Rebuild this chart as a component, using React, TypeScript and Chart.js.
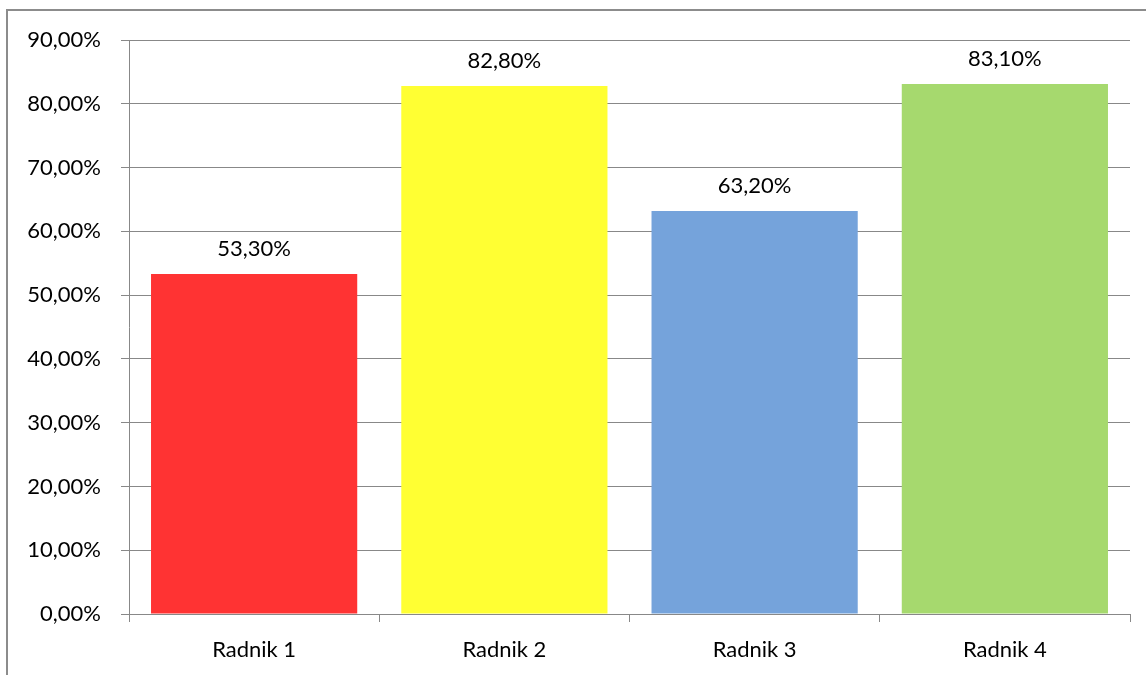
import React, { useEffect, useRef } from "react";
import { Chart, registerables } from "chart.js";

Chart.register(...registerables);

const categories = ["Radnik 1", "Radnik 2", "Radnik 3", "Radnik 4"];
const values = [53.3, 82.8, 63.2, 83.1];
const barColors = ["#FF3333", "#FFFF33", "#75A3DB", "#A6D96E"];
const yTicks = [0, 10, 20, 30, 40, 50, 60, 70, 80, 90];

const FONT = "Lato, 'Open Sans', sans-serif";
const GRID = "#888888";
const FS = 22;

const fmt = (v: number) => v.toFixed(2).replace(".", ",") + "%";

const labelPlugin = {
  id: "barLabels",
  afterDatasetsDraw(chart: any) {
    const ctx = chart.ctx;
    const meta = chart.getDatasetMeta(0);
    ctx.save();
    ctx.font = `${FS}px ${FONT}`;
    ctx.fillStyle = "#000000";
    ctx.textAlign = "center";
    ctx.textBaseline = "middle";
    meta.data.forEach((el: any, i: number) => {
      ctx.fillText(fmt(values[i]), el.x, el.y - 25);
    });
    ctx.restore();
  },
};

export default function App() {
  const ref = useRef<HTMLCanvasElement | null>(null);
  useEffect(() => {
    if (!ref.current) return;
    const chart = new Chart(ref.current, {
      type: "bar",
      data: {
        labels: categories,
        datasets: [
          {
            data: values,
            backgroundColor: barColors,
            borderWidth: 0,
            barPercentage: 0.824,
            categoryPercentage: 1,
          },
        ],
      },
      options: {
        responsive: false,
        animation: false,
        layout: { padding: { top: 40, right: 16, left: 0, bottom: 0 } },
        plugins: { legend: { display: false }, tooltip: { enabled: false } },
        scales: {
          x: {
            grid: { drawOnChartArea: false, drawTicks: true, tickLength: 8, color: GRID, offset: true },
            border: { color: GRID, width: 1 },
            ticks: { color: "#000", font: { family: FONT, size: FS }, padding: 15 },
            afterFit(scale: any) {
              scale.height = 61;
            },
          },
          y: {
            min: 0,
            max: 90,
            afterBuildTicks(scale: any) {
              scale.ticks = yTicks.map((v) => ({ value: v }));
            },
            grid: { color: GRID, tickLength: 8, drawTicks: true },
            border: { color: GRID, width: 1 },
            ticks: {
              color: "#000",
              font: { family: FONT, size: FS },
              padding: 20,
              callback: (v: any) => fmt(Number(v)),
            },
            afterFit(scale: any) {
              scale.width = 129;
            },
          },
        },
      },
      plugins: [labelPlugin],
    });
    return () => chart.destroy();
  }, []);
  return (
    <div
      style={{
        position: "fixed",
        left: 0,
        top: 0,
        width: 1146,
        height: 675,
        overflow: "hidden",
        background: "#ffffff",
      }}
    >
      <div
        style={{
          position: "absolute",
          left: 6,
          top: 9,
          width: 1400,
          height: 900,
          borderLeft: "2px solid #8c8c8c",
          borderTop: "2px solid #8c8c8c",
        }}
      />
      <canvas
        ref={ref}
        width={1146}
        height={675}
        style={{ display: "block", position: "absolute", left: 0, top: 0 }}
      />
    </div>
  );
}
